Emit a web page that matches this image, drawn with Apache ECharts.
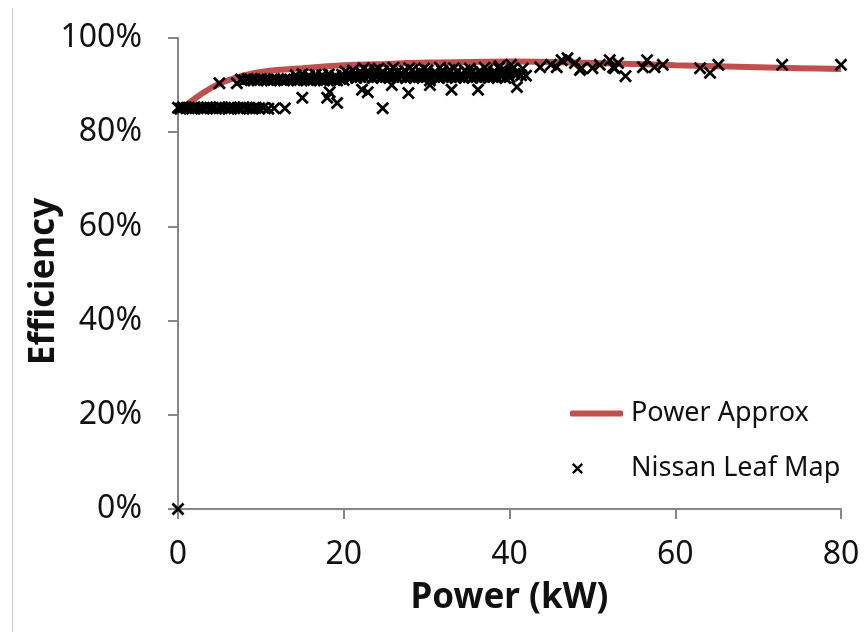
<!DOCTYPE html>
<html>
<head>
<meta charset="utf-8">
<script src="https://cdn.jsdelivr.net/npm/echarts@6/dist/echarts.min.js"></script>
<style>html,body{margin:0;padding:0;background:#fff}#c{width:865px;height:632px}</style>
</head>
<body>
<div id="c"></div>
<script>
// ---- data ----
var xTicks = [0, 20, 40, 60, 80];
var yTicks = [0, 0.2, 0.4, 0.6, 0.8, 1.0];

var powerApprox = [
  [0,0.845],[1,0.858],[2,0.871],[3,0.883],[4,0.894],[5,0.903],[6,0.910],[7,0.916],
  [8,0.921],[9,0.925],[10,0.928],[12,0.932],[15,0.936],[18,0.940],[20,0.942],
  [25,0.945],[30,0.948],[35,0.949],[40,0.950],[45,0.949],[50,0.947],[55,0.945],
  [60,0.942],[65,0.940],[70,0.938],[75,0.936],[80,0.934]
];

var leafLowBand = [
  [0,0.852],[0.3,0.85],[0.6,0.853],[1.0,0.851],[1.3,0.852],[1.7,0.85],[2.0,0.853],[2.4,0.851],
  [2.8,0.852],[3.1,0.85],[3.5,0.853],[3.9,0.851],[4.2,0.852],[4.6,0.85],[5.0,0.853],[5.3,0.851],
  [5.7,0.852],[6.1,0.85],[6.4,0.853],[6.8,0.851],[7.2,0.852],[7.5,0.85],[7.9,0.853],[8.3,0.851],
  [8.6,0.852],[9.0,0.85],[9.4,0.852],[9.8,0.851],[10.3,0.852],[10.9,0.85],[11.6,0.851],[12.9,0.851]
];

var leafMainBand = [
  [5.0,0.904],[7.1,0.904],
  [7.6,0.912],[8.0,0.91],[8.4,0.913],[8.8,0.911],[9.2,0.912],[9.6,0.91],[10.0,0.913],[10.4,0.911],
  [10.8,0.912],[11.2,0.91],[11.6,0.913],[12.0,0.911],[12.4,0.912],[12.8,0.91],[13.2,0.913],[13.6,0.911],
  [14.0,0.912],[14.4,0.91],[14.8,0.913],[15.2,0.911],[15.6,0.912],[16.0,0.91],[16.4,0.913],[16.8,0.911],
  [17.2,0.912],[17.6,0.91],[18.0,0.913],[18.4,0.911],[18.8,0.912],[19.2,0.91],[19.6,0.913],[20.0,0.911],
  [20.5,0.916],[21.0,0.918],[21.5,0.915],[22.0,0.917],[22.5,0.916],[23.0,0.918],[23.5,0.915],[24.0,0.917],
  [24.5,0.916],[25.0,0.918],[25.5,0.915],[26.0,0.917],[26.5,0.916],[27.0,0.918],[27.5,0.915],[28.0,0.917],
  [28.5,0.916],[29.0,0.918],[29.5,0.915],[30.0,0.917],[30.5,0.916],[31.0,0.918],[31.5,0.915],[32.0,0.917],
  [32.5,0.916],[33.0,0.918],[33.5,0.915],[34.0,0.917],[34.5,0.916],[35.0,0.918],[35.5,0.915],[36.0,0.917],
  [36.5,0.916],[37.0,0.918],[37.5,0.915],[38.0,0.917],[38.5,0.916],[39.0,0.918],[39.5,0.915],[40.0,0.917],
  [14.2,0.921],[15.0,0.923],[15.8,0.92],[16.6,0.922],[17.4,0.921],[18.2,0.923],[19.0,0.92],[19.8,0.922],
  [20.6,0.924],[21.4,0.921],[22.2,0.923],[23.0,0.925],[23.8,0.922],[24.6,0.924],[25.4,0.921],[26.2,0.923],
  [27.0,0.925],[27.8,0.922],[28.6,0.924],[29.4,0.921],[30.2,0.923],[31.0,0.925],[31.8,0.922],[32.6,0.924],
  [33.4,0.921],[34.2,0.923],[35.0,0.925],[35.8,0.922],[36.6,0.924],[37.4,0.921],[38.2,0.923],[39.0,0.925],
  [39.8,0.922],[40.6,0.924],[41.4,0.921],
  [20.2,0.929],[21.1,0.931],[22.0,0.928],[22.9,0.93],[23.8,0.932],[24.7,0.929],[25.6,0.931],[26.5,0.928],
  [27.4,0.93],[28.3,0.932],[29.2,0.929],[30.1,0.931],[31.0,0.928],[31.9,0.93],[32.8,0.932],[33.7,0.929],
  [34.6,0.931],[35.5,0.928],[36.4,0.93],[37.3,0.932],[38.2,0.929],[39.1,0.931],[40.0,0.928],
  [22.4,0.936],[24.2,0.935],[26.0,0.937],[27.9,0.936],[29.7,0.935],[31.6,0.937],[33.3,0.936],[35.2,0.935],
  [37.0,0.937],[38.7,0.936],[40.4,0.935]
];

var leafScattered = [
  [0,0],
  [15.0,0.873],[18.0,0.873],[18.3,0.885],[19.2,0.862],[22.2,0.89],[22.9,0.885],[24.7,0.851],
  [25.8,0.90],[27.8,0.883],[30.4,0.90],[30.4,0.91],[33.0,0.89],[36.2,0.89],[40.9,0.896],
  [38.8,0.94],[39.5,0.93],[40.2,0.943],[41.0,0.925],[41.6,0.935],[42.0,0.92],[43.7,0.938],[45.0,0.943],
  [45.7,0.938],[46.3,0.953],[47.0,0.957],[47.9,0.947],[48.5,0.932],[48.7,0.936],[50.0,0.936],[50.9,0.943],
  [52.1,0.953],[52.5,0.938],[52.7,0.936],[53.1,0.947],[54.0,0.919],[56.1,0.938],[56.6,0.953],[57.5,0.938],
  [58.5,0.943],[63.0,0.936],[64.2,0.926],[65.2,0.943],[72.9,0.943],[80.0,0.943]
];

// ---- chart ----
var xPath = 'path://M0,3 L3,0 L10,7 L17,0 L20,3 L13,10 L20,17 L17,20 L10,13 L3,20 L0,17 L7,10 Z';
var FONT = 'Noto Sans';
var txt = '#111';
var axisCol = '#868686';

var chart = echarts.init(document.getElementById('c'), null, {renderer: 'canvas'});
chart.setOption({
  animation: false,
  backgroundColor: '#fff',
  grid: {left: 178, right: 24, top: 38, bottom: 123, containLabel: false},
  graphic: [{
    type: 'line', shape: {x1: 12.5, y1: 8, x2: 12.5, y2: 632},
    style: {stroke: '#c8c8c8', lineWidth: 1}
  }],
  xAxis: {
    type: 'value', min: xTicks[0], max: xTicks[xTicks.length - 1], interval: 20,
    name: 'Power (kW)', nameLocation: 'middle', nameGap: 72, nameMoveOverlap: false,
    nameTextStyle: {fontFamily: FONT, fontWeight: 'bold', fontSize: 35, color: txt},
    axisLine: {show: true, onZero: false, lineStyle: {color: axisCol, width: 2}},
    axisTick: {show: true, length: 10, lineStyle: {color: axisCol, width: 2}},
    axisLabel: {fontFamily: FONT, fontSize: 32, color: txt, margin: 30},
    splitLine: {show: false}
  },
  yAxis: {
    type: 'value', min: yTicks[0], max: yTicks[yTicks.length - 1], interval: 0.2,
    name: 'Efficiency', nameLocation: 'middle', nameGap: 116, nameRotate: 90, nameMoveOverlap: false,
    nameTextStyle: {fontFamily: FONT, fontWeight: 'bold', fontSize: 35, color: txt,
      padding: [0, 16, 0, 0]},
    axisLine: {show: true, onZero: false, lineStyle: {color: axisCol, width: 2}},
    axisTick: {show: true, length: 10, lineStyle: {color: axisCol, width: 2}},
    axisLabel: {fontFamily: FONT, fontSize: 32, color: txt, margin: 36,
      formatter: function (v) { return Math.round(v * 100) + '%'; }},
    splitLine: {show: false}
  },
  legend: [{
    left: 570, top: 400, orient: 'vertical', padding: 0,
    data: [{name: 'Power Approx', icon: 'roundRect'}],
    itemWidth: 53, itemHeight: 6,
    textStyle: {fontFamily: FONT, fontSize: 27, color: txt, padding: [0, 0, 0, 3]}
  }, {
    left: 572, top: 455, orient: 'vertical', padding: 0,
    data: [{name: 'Nissan Leaf Map', icon: xPath}],
    itemWidth: 11, itemHeight: 11,
    textStyle: {fontFamily: FONT, fontSize: 27, color: txt, padding: [0, 0, 0, 43]}
  }],
  series: [{
    name: 'Power Approx', type: 'line', data: powerApprox, smooth: 0.3,
    showSymbol: false, symbol: 'none', z: 1,
    lineStyle: {color: '#C0504D', width: 6},
    itemStyle: {color: '#C0504D'}
  }, {
    name: 'Nissan Leaf Map', type: 'scatter', z: 2,
    data: leafLowBand.concat(leafMainBand, leafScattered),
    symbol: xPath, symbolSize: 13,
    itemStyle: {color: '#000', opacity: 1}
  }]
});
</script>
</body>
</html>
